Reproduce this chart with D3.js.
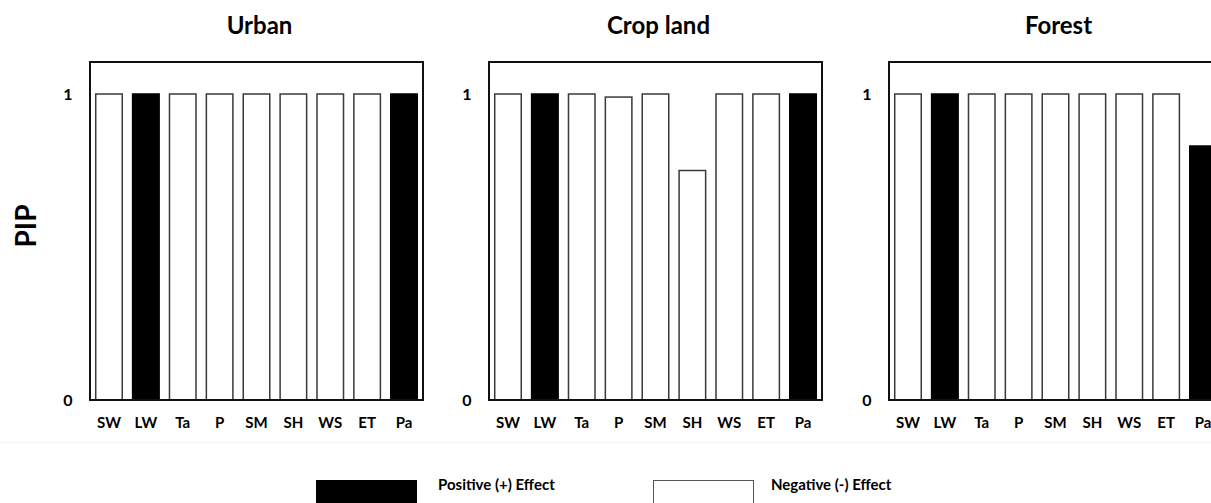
<!DOCTYPE html>
<html>
<head>
<meta charset="utf-8">
<script src="https://cdn.jsdelivr.net/npm/d3@7"></script>
<style>
  html, body { margin: 0; padding: 0; background: #fff; }
  svg { display: block; }
  text { font-family: Lato, "Open Sans", sans-serif; font-weight: 700; fill: #000; }
</style>
</head>
<body>
<svg id="chart" width="1211" height="503"></svg>
<script>
// Predictor variables on the x axis
const variables = ["SW", "LW", "Ta", "P", "SM", "SH", "WS", "ET", "Pa"];

// Land-cover panels
const panels = ["Urban", "Crop land", "Forest"];

// Posterior inclusion probability per predictor, one array per land cover
const pipUrban    = [1, 1, 1, 1, 1, 1, 1, 1, 1];
const pipCropland = [1, 1, 1, 0.99, 1, 0.75, 1, 1, 1];
const pipForest   = [1, 1, 1, 1, 1, 1, 1, 1, 0.83];

// Sign of the effect: 1 = positive, 0 = negative
const signUrban    = [0, 1, 0, 0, 0, 0, 0, 0, 1];
const signCropland = [0, 1, 0, 0, 0, 0, 0, 0, 1];
const signForest   = [0, 1, 0, 0, 0, 0, 0, 0, 1];

const yTicks = [0, 1];
const legendLabels = ["Positive (+) Effect", "Negative (-) Effect"];

const series = [
  { title: panels[0], pip: pipUrban,    sign: signUrban },
  { title: panels[1], pip: pipCropland, sign: signCropland },
  { title: panels[2], pip: pipForest,   sign: signForest }
];

const svg = d3.select("#chart");

const panelLeft = [90, 489, 889];
const panelW = 333;
const frameTop = 62, frameBottom = 400;

// y: 0 at frame bottom, 1 at y=94
const y = d3.scaleLinear().domain([0, 1]).range([frameBottom, 94]);

// faint separator under the axis labels
svg.append("line")
  .attr("x1", 0).attr("x2", 1211)
  .attr("y1", 442.5).attr("y2", 442.5)
  .attr("stroke", "#f3f3f3").attr("stroke-width", 1);

series.forEach((s, i) => {
  const x0 = panelLeft[i];
  const x = d3.scaleBand()
    .domain(variables)
    .range([x0, x0 + panelW])
    .paddingInner(0.24)
    .paddingOuter(0.135);

  const g = svg.append("g");

  // title
  g.append("text")
    .attr("x", x0 + panelW / 2 + 3)
    .attr("y", 34)
    .attr("text-anchor", "middle")
    .attr("font-size", 24)
    .text(s.title);

  // bars
  const rows = variables.map((v, k) => ({ v, pip: s.pip[k], sign: s.sign[k] }));
  g.selectAll("rect.bar")
    .data(rows)
    .join("rect")
    .attr("class", "bar")
    .attr("x", d => x(d.v) + 0.75)
    .attr("width", x.bandwidth() - 1.5)
    .attr("y", d => y(d.pip))
    .attr("height", d => y(0) - y(d.pip))
    .attr("fill", d => d.sign ? "#000" : "#fff")
    .attr("stroke", d => d.sign ? "#000" : "#3a3a3a")
    .attr("stroke-width", 1.5);

  // frame
  g.append("rect")
    .attr("x", x0).attr("y", frameTop)
    .attr("width", panelW).attr("height", frameBottom - frameTop)
    .attr("fill", "none")
    .attr("stroke", "#111")
    .attr("stroke-width", 2);

  // y tick labels
  g.selectAll("text.ytick")
    .data(yTicks)
    .join("text")
    .attr("class", "ytick")
    .attr("x", x0 - 22)
    .attr("y", d => y(d))
    .attr("dy", "0.35em")
    .attr("text-anchor", "middle")
    .attr("font-size", 16)
    .text(d => d);

  // x labels
  g.selectAll("text.xlab")
    .data(variables)
    .join("text")
    .attr("class", "xlab")
    .attr("x", d => x(d) + x.bandwidth() / 2)
    .attr("y", 423)
    .attr("dy", "0.35em")
    .attr("text-anchor", "middle")
    .attr("font-size", 15)
    .text(d => d);
});

// y axis title
svg.append("text")
  .attr("transform", "translate(26,226) rotate(-90)")
  .attr("text-anchor", "middle")
  .attr("dy", "0.35em")
  .attr("font-size", 28)
  .text("PIP");

// legend
const legend = svg.append("g");
const legendItems = [
  { label: legendLabels[0], fill: "#000", stroke: "#000", rx: 316, tx: 438 },
  { label: legendLabels[1], fill: "#fff", stroke: "#555", rx: 653, tx: 771 }
];
legend.selectAll("rect")
  .data(legendItems)
  .join("rect")
  .attr("x", d => d.rx + 0.5)
  .attr("y", 480.5)
  .attr("width", 100)
  .attr("height", 40)
  .attr("fill", d => d.fill)
  .attr("stroke", d => d.stroke)
  .attr("stroke-width", 1);
legend.selectAll("text")
  .data(legendItems)
  .join("text")
  .attr("x", d => d.tx)
  .attr("y", 485)
  .attr("dy", "0.35em")
  .attr("font-size", 15)
  .text(d => d.label);
</script>
</body>
</html>
